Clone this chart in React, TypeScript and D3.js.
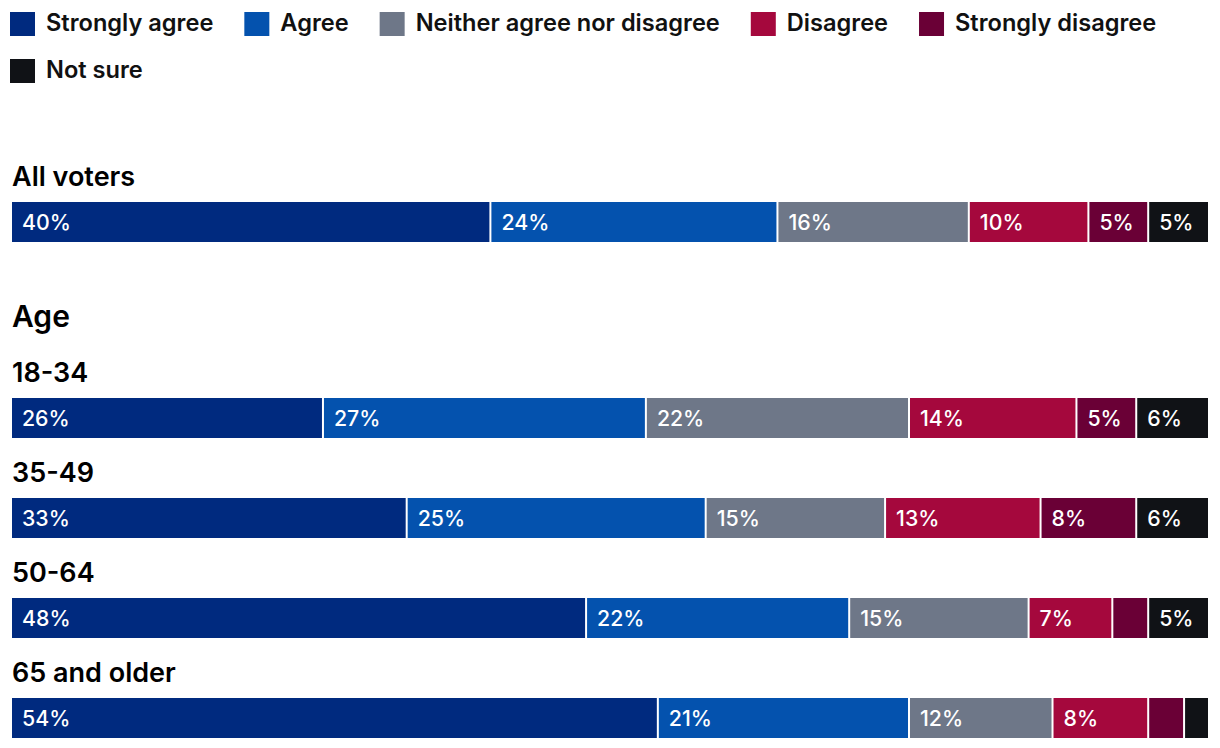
import React from "react";
import * as d3 from "d3";

const seriesNames = ["Strongly agree", "Agree", "Neither agree nor disagree", "Disagree", "Strongly disagree", "Not sure"];
const seriesColors = ["#002a7f", "#0452ae", "#6e7788", "#a5083d", "#6a0036", "#101216"];

const categories = ["All voters", "18-34", "35-49", "50-64", "65 and older"];
const categoryGroups = ["", "Age", "Age", "Age", "Age"];

const stronglyAgree = [40, 26, 33, 48, 54];
const agree = [24, 27, 25, 22, 21];
const neither = [16, 22, 15, 15, 12];
const disagree = [10, 14, 13, 7, 8];
const stronglyDisagree = [5, 5, 8, 3, 3];
const notSure = [5, 6, 6, 5, 2];

const seriesValues = [stronglyAgree, agree, neither, disagree, stronglyDisagree, notSure];

const FONT = "Inter, 'Noto Sans', sans-serif";
const W = 1220;
const H = 748;

function measure(text: string, font: string): number {
  if (typeof document === "undefined") return text.length * 10;
  const c = document.createElement("canvas");
  const ctx = c.getContext("2d");
  if (!ctx) return text.length * 10;
  ctx.font = font;
  return ctx.measureText(text).width;
}

export default function App() {
  const x = d3.scaleLinear().domain([0, 100]).range([12, 1208]);

  // legend layout (flow)
  const legendSize = 23.6;
  const legendFont = `600 ${legendSize}px ${FONT}`;
  const legendItems: { name: string; color: string; x: number; row: number }[] = [];
  let lx = 10;
  let row = 0;
  seriesNames.forEach((name, i) => {
    const w = 36 + measure(name, legendFont);
    if (lx + w > 1210) {
      row += 1;
      lx = 10;
    }
    legendItems.push({ name, color: seriesColors[i], x: lx, row });
    lx += w + 31;
  });

  const stack = d3
    .stack<number>()
    .keys(seriesNames.map((_, i) => String(i)))
    .value((idx, key) => seriesValues[+key][idx]);
  const stacked = stack(categories.map((_, i) => i));

  const rows: { cat: string; y: number; header?: string; headerY?: number }[] = [];
  let y = 202;
  let prevGroup = "";
  categories.forEach((cat, i) => {
    const g = categoryGroups[i];
    let header: string | undefined;
    let headerY: number | undefined;
    if (i > 0) {
      if (g !== prevGroup && g) {
        y += 196;
        header = g;
        headerY = y - 71;
      } else {
        y += 100;
      }
    }
    prevGroup = g;
    rows.push({ cat, y, header, headerY });
  });

  const barH = 40;

  return (
    <svg width={W} height={H} style={{ position: "absolute", left: 0, top: 0, background: "#fff" }} fontFamily={FONT}>
      {legendItems.map((it) => (
        <g key={it.name} transform={`translate(${it.x},${12 + it.row * 47})`}>
          <rect x={0} y={0} width={25} height={24} fill={it.color} />
          <text x={36} y={19} fontSize={legendSize} fontWeight={600} fill="#111">
            {it.name}
          </text>
        </g>
      ))}
      {rows.map((r, ri) => (
        <g key={r.cat}>
          {r.header && (
            <text x={12} y={r.headerY} fontSize={30} fontWeight={600} fill="#000">
              {r.header}
            </text>
          )}
          <text x={12} y={r.y - 16} fontSize={27} fontWeight={600} fill="#000">
            {r.cat}
          </text>
          {stacked.map((s, si) => {
            const d = s[ri];
            const v = d[1] - d[0];
            if (v <= 0) return null;
            const last = si === stacked.length - 1;
            const x0 = x(d[0]) + (si === 0 ? 0 : 1);
            const x1 = x(d[1]) - (last ? 0 : 1);
            return (
              <g key={si}>
                <rect x={x0} y={r.y} width={Math.max(0, x1 - x0)} height={barH} fill={seriesColors[si]} />
                {v >= 5 && (
                  <text x={x0 + 10} y={r.y + 28} fontSize={21.3} fontWeight={500} fill="#fff">
                    {`${v}%`}
                  </text>
                )}
              </g>
            );
          })}
        </g>
      ))}
    </svg>
  );
}
